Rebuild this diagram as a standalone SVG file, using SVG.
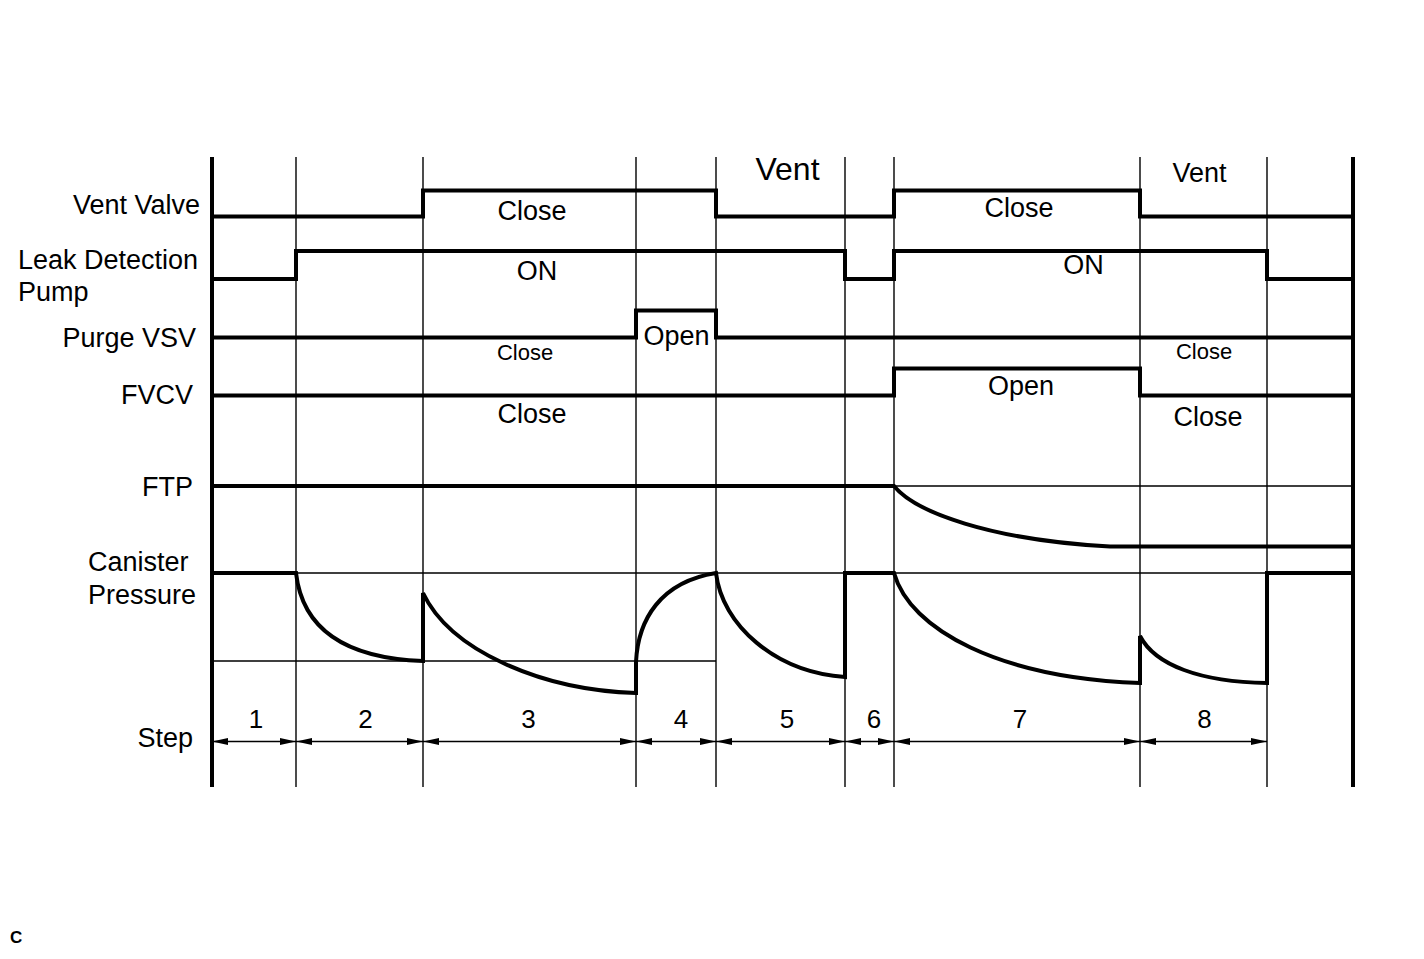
<svg xmlns="http://www.w3.org/2000/svg" width="1424" height="959" viewBox="0 0 1424 959">
<style>
text{font-family:"Liberation Sans",Arial,sans-serif;fill:#000}
.lbl{font-size:27px}
.t27{font-size:27px;text-anchor:middle}
.t22{font-size:22px;text-anchor:middle}
.num{font-size:26px;text-anchor:middle}
.thin{stroke:#000;stroke-width:1.4;fill:none}
.thick{stroke:#000;stroke-width:4;fill:none;stroke-linejoin:miter}
.axis{stroke:#000;stroke-width:4;fill:none}
</style>
<defs>
<marker id="ah" viewBox="0 0 16 7" refX="16" refY="3.5" markerWidth="16" markerHeight="7" markerUnits="userSpaceOnUse" orient="auto-start-reverse">
<path d="M0,0 L16,3.5 L0,7 z" fill="#000"/>
</marker>
</defs>
<rect width="1424" height="959" fill="#fff"/>

<g id="grid">
<path class="thin" d="M296,157V787M423,157V787M636,157V787M716,157V787M845,157V787M894,157V787M1140,157V787M1267,157V787"/>
<path class="thin" d="M212,486H1353M212,573H1353M212,661H716"/>
<path class="axis" d="M212,157V787M1353,157V787"/>
</g>

<g id="labels">
<text class="lbl" x="200" y="214" text-anchor="end">Vent Valve</text>
<text class="lbl" x="18" y="269">Leak Detection</text>
<text class="lbl" x="18" y="301">Pump</text>
<text class="lbl" x="196" y="347" text-anchor="end">Purge VSV</text>
<text class="lbl" x="193" y="404" text-anchor="end">FVCV</text>
<text class="lbl" x="193" y="496" text-anchor="end">FTP</text>
<text class="lbl" x="88" y="571">Canister</text>
<text class="lbl" x="88" y="604">Pressure</text>
<text class="lbl" x="193" y="747" text-anchor="end">Step</text>
</g>

<g id="vent-valve">
<path class="thick" d="M212,216.5H423V190.5H716V216.5H894V190.5H1140V216.5H1353"/>
<text class="t27" x="532" y="219.5">Close</text>
<text x="787.5" y="180" style="font-size:32px;text-anchor:middle">Vent</text>
<text class="t27" x="1019" y="217">Close</text>
<text class="t27" x="1199.5" y="182">Vent</text>
</g>

<g id="leak-detection-pump">
<path class="thick" d="M212,279H296V251H845V279H894V251H1267V279H1353"/>
<text class="t27" x="537" y="280">ON</text>
<text class="t27" x="1083.5" y="274">ON</text>
</g>

<g id="purge-vsv">
<path class="thick" d="M212,337.5H636V310.5H716V337.5H1353"/>
<text class="t22" x="525" y="360">Close</text>
<text class="t27" x="676.5" y="345">Open</text>
<text class="t22" x="1204" y="359">Close</text>
</g>

<g id="fvcv">
<path class="thick" d="M212,395.5H894V368.5H1140V395.5H1353"/>
<text class="t27" x="532" y="423">Close</text>
<text class="t27" x="1021" y="395">Open</text>
<text class="t27" x="1208" y="426">Close</text>
</g>

<g id="ftp">
<path class="thick" d="M212,486H894C915,512 990,540 1110,546.5H1353"/>
</g>

<g id="canister-pressure">
<path class="thick" d="M212,573H296C302,625 340,658 423,661V593C450,650 540,690 636,693V662C638,620 660,582 716,573C722,625 775,672 845,677V573H894C910,630 1000,678 1140,683V636C1155,665 1200,682 1267,683V573H1353"/>
</g>

<g id="connectors">
<path class="thin" d="M212,741.5H296" marker-start="url(#ah)" marker-end="url(#ah)"/>
<path class="thin" d="M296,741.5H423" marker-start="url(#ah)" marker-end="url(#ah)"/>
<path class="thin" d="M423,741.5H636" marker-start="url(#ah)" marker-end="url(#ah)"/>
<path class="thin" d="M636,741.5H716" marker-start="url(#ah)" marker-end="url(#ah)"/>
<path class="thin" d="M716,741.5H845" marker-start="url(#ah)" marker-end="url(#ah)"/>
<path class="thin" d="M845,741.5H894" marker-start="url(#ah)" marker-end="url(#ah)"/>
<path class="thin" d="M894,741.5H1140" marker-start="url(#ah)" marker-end="url(#ah)"/>
<path class="thin" d="M1140,741.5H1267" marker-start="url(#ah)" marker-end="url(#ah)"/>
</g>

<g id="steps">
<text class="num" x="256" y="728">1</text>
<text class="num" x="365.5" y="728">2</text>
<text class="num" x="528.5" y="728">3</text>
<text class="num" x="681" y="728">4</text>
<text class="num" x="787" y="728">5</text>
<text class="num" x="874" y="728">6</text>
<text class="num" x="1020" y="728">7</text>
<text class="num" x="1204.5" y="728">8</text>
</g>

<text x="10" y="943" style="font-size:17px;font-weight:bold">C</text>
</svg>
